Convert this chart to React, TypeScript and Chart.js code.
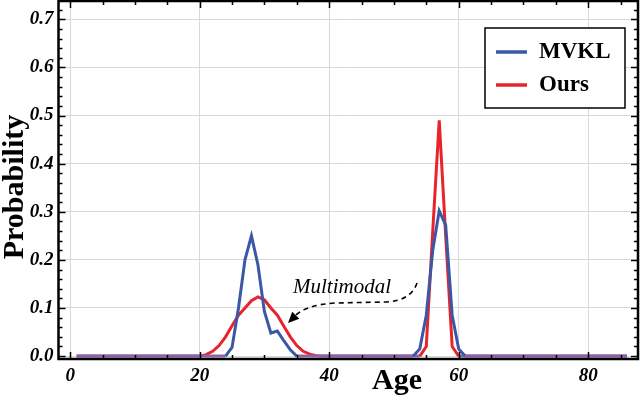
import React, { useEffect, useRef } from "react";
import { Chart, registerables } from "chart.js";

Chart.register(...registerables);

// ---- data ----
const mvklAges = [1, 24, 25, 26, 27, 28, 29, 30, 31, 32, 33, 34, 35, 53, 54, 55, 56, 57, 58, 59, 60, 61, 86];
const mvklProbs = [0, 0, 0.018, 0.1, 0.2, 0.25, 0.19, 0.093, 0.048, 0.052, 0.032, 0.013, 0, 0, 0.015, 0.085, 0.22, 0.302, 0.272, 0.085, 0.015, 0, 0];

const oursAges = [1, 20, 21, 22, 23, 24, 25, 26, 27, 28, 29, 30, 31, 32, 33, 34, 35, 36, 37, 38, 39, 54, 55, 56, 57, 58, 59, 60, 86];
const oursProbs = [0, 0, 0.003, 0.01, 0.022, 0.04, 0.063, 0.085, 0.1, 0.115, 0.123, 0.117, 0.1, 0.085, 0.062, 0.04, 0.022, 0.01, 0.004, 0.001, 0, 0, 0.02, 0.26, 0.49, 0.25, 0.02, 0, 0];

const xTickValues = [0, 20, 40, 60, 80];
const yTickValues = [0, 0.1, 0.2, 0.3, 0.4, 0.5, 0.6, 0.7];

const seriesNames = ["MVKL", "Ours"];
const xTitle = "Age";
const yTitle = "Probability";
const annotationText = "Multimodal";

const BLUE = "#3b58a6";
const RED = "#e8232c";
const BASE = "#8d62a6";
const FONT = '"Liberation Serif", "Times New Roman", serif';

const toPts = (xs: number[], ys: number[]) => xs.map((x, i) => ({ x, y: ys[i] }));

const decorPlugin = {
  id: "decor",
  afterDraw(chart: any) {
    const { ctx, chartArea } = chart;
    const { left, right, top, bottom } = chartArea;
    const xs = chart.scales.x;
    const ys = chart.scales.y;
    ctx.save();

    // frame
    ctx.strokeStyle = "#000";
    ctx.lineWidth = 2.5;
    ctx.strokeRect(left, top, right - left, bottom - top);

    // ticks (inward, major + minor)
    ctx.lineWidth = 1.5;
    ctx.beginPath();
    for (let v = 0; v <= 87; v += 5) {
      const px = Math.round(xs.getPixelForValue(v)) + 0.5;
      const len = v % 20 === 0 ? 7 : 4;
      ctx.moveTo(px, bottom);
      ctx.lineTo(px, bottom - len);
      ctx.moveTo(px, top);
      ctx.lineTo(px, top + len);
    }
    for (let i = 0; i <= 36; i++) {
      const v = i * 0.02;
      const py = Math.round(ys.getPixelForValue(v)) + 0.5;
      if (py < top) continue;
      const len = i % 5 === 0 ? 7 : 4;
      ctx.moveTo(left, py);
      ctx.lineTo(left + len, py);
      ctx.moveTo(right, py);
      ctx.lineTo(right - len, py);
    }
    ctx.stroke();

    // axis titles
    ctx.fillStyle = "#000";
    ctx.font = `bold 30px ${FONT}`;
    ctx.textAlign = "center";
    ctx.textBaseline = "alphabetic";
    ctx.fillText(xTitle, 397, 389);
    ctx.save();
    ctx.translate(23, 187);
    ctx.rotate(-Math.PI / 2);
    ctx.fillText(yTitle, 0, 0);
    ctx.restore();

    // annotation
    ctx.font = `italic 21px ${FONT}`;
    ctx.textAlign = "left";
    ctx.fillText(annotationText, 293, 293);
    ctx.setLineDash([5, 4]);
    ctx.lineWidth = 1.6;
    ctx.beginPath();
    ctx.moveTo(417, 283);
    ctx.quadraticCurveTo(411, 301, 385, 302);
    ctx.lineTo(335, 303);
    ctx.quadraticCurveTo(305, 305, 295, 316);
    ctx.stroke();
    ctx.setLineDash([]);
    // arrow head
    const tipX = 288, tipY = 323;
    const ang = Math.atan2(tipY - 315, tipX - 296);
    const L = 11, W = 5;
    ctx.beginPath();
    ctx.moveTo(tipX, tipY);
    ctx.lineTo(tipX - L * Math.cos(ang) + W * Math.sin(ang), tipY - L * Math.sin(ang) - W * Math.cos(ang));
    ctx.lineTo(tipX - L * Math.cos(ang) - W * Math.sin(ang), tipY - L * Math.sin(ang) + W * Math.cos(ang));
    ctx.closePath();
    ctx.fill();

    // legend
    ctx.fillStyle = "#fff";
    ctx.fillRect(485, 28, 140, 80);
    ctx.strokeStyle = "#000";
    ctx.lineWidth = 1.5;
    ctx.strokeRect(485, 28, 140, 80);
    ctx.font = `bold 23px ${FONT}`;
    ctx.textAlign = "left";
    const rowsY = [52, 85];
    chart.data.datasets.forEach((ds: any, i: number) => {
      ctx.strokeStyle = ds.borderColor;
      ctx.lineWidth = 3.5;
      ctx.beginPath();
      ctx.moveTo(496, rowsY[i]);
      ctx.lineTo(527, rowsY[i]);
      ctx.stroke();
      ctx.fillStyle = "#000";
      ctx.fillText(ds.label, 539, rowsY[i] + 6);
    });

    ctx.restore();
  },
};

const zeroPad = (s: any) => {
  s.paddingTop = 0;
  s.paddingBottom = 0;
  s.paddingLeft = 0;
  s.paddingRight = 0;
};

export default function App() {
  const ref = useRef<HTMLCanvasElement | null>(null);

  useEffect(() => {
    if (!ref.current) return;
    const zeroSeg = (ctx: any) =>
      ctx.p0.parsed.y === 0 && ctx.p1.parsed.y === 0 ? BASE : undefined;
    const chart = new Chart(ref.current, {
      type: "line",
      data: {
        datasets: [
          {
            label: seriesNames[0],
            data: toPts(mvklAges, mvklProbs),
            borderColor: BLUE,
            borderWidth: 3,
            pointRadius: 0,
            tension: 0,
            order: 0,
            segment: { borderColor: zeroSeg },
          },
          {
            label: seriesNames[1],
            data: toPts(oursAges, oursProbs),
            borderColor: RED,
            borderWidth: 3,
            pointRadius: 0,
            tension: 0,
            order: 1,
            segment: { borderColor: zeroSeg },
          },
        ],
      },
      options: {
        animation: false,
        responsive: false,
        layout: { padding: { left: 0, right: 2, top: 1, bottom: 0 } },
        plugins: { legend: { display: false }, tooltip: { enabled: false } },
        scales: {
          x: {
            type: "linear",
            min: -1.8,
            max: 87.7,
            afterBuildTicks: (s: any) => {
              s.ticks = xTickValues.map((v) => ({ value: v }));
            },
            afterFit: (s: any) => {
              s.height = 39;
              zeroPad(s);
            },
            grid: { color: "#d9d9d9", lineWidth: 1, drawTicks: false },
            border: { display: false },
            ticks: {
              padding: 6,
              color: "#000",
              font: { family: FONT, size: 19, style: "italic", weight: "bold" },
              callback: (v: any) => String(v),
              maxRotation: 0,
            },
          },
          y: {
            type: "linear",
            min: -0.006,
            max: 0.738,
            afterBuildTicks: (s: any) => {
              s.ticks = yTickValues.map((v) => ({ value: v }));
            },
            afterFit: (s: any) => {
              s.width = 58.5;
              zeroPad(s);
            },
            grid: { color: "#d9d9d9", lineWidth: 1, drawTicks: false },
            border: { display: false },
            ticks: {
              padding: 5,
              color: "#000",
              font: { family: FONT, size: 19, style: "italic", weight: "bold" },
              callback: (v: any) => Number(v).toFixed(1),
            },
          },
        },
      },
      plugins: [decorPlugin],
    });
    return () => chart.destroy();
  }, []);

  return (
    <div style={{ position: "fixed", left: 0, top: 0, width: 640, height: 398, background: "#fff" }}>
      <canvas ref={ref} width={640} height={398} style={{ display: "block" }} />
    </div>
  );
}
